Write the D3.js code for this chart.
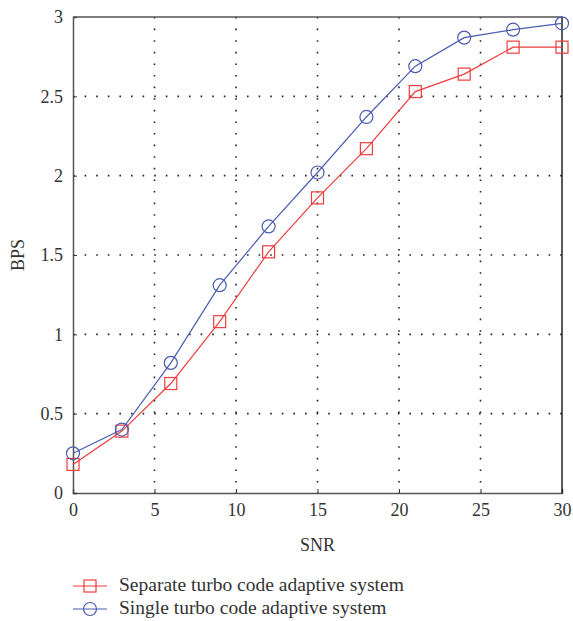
<!DOCTYPE html>
<html>
<head>
<meta charset="utf-8">
<script src="https://cdn.jsdelivr.net/npm/d3@7"></script>
<style>
  body { margin: 0; background: #fff; }
  text { font-family: 'Liberation Serif', 'DejaVu Serif', serif; fill: #333; }
</style>
</head>
<body>
<script>
const snr = [0, 3, 6, 9, 12, 15, 18, 21, 24, 27, 30];
const separateBps = [0.18, 0.39, 0.69, 1.08, 1.52, 1.86, 2.17, 2.53, 2.64, 2.81, 2.81];
const singleBps = [0.25, 0.40, 0.82, 1.31, 1.68, 2.02, 2.37, 2.69, 2.87, 2.92, 2.96];
const xTicks = [0, 5, 10, 15, 20, 25, 30];
const yTicks = [0, 0.5, 1, 1.5, 2, 2.5, 3];

const width = 573, height = 621;
const margin = { left: 73, top: 17, right: 11, bottom: 128 };

const svg = d3.select('body').append('svg')
  .attr('width', width)
  .attr('height', height);

const x = d3.scaleLinear().domain([0, 30]).range([margin.left, width - margin.right]);
const y = d3.scaleLinear().domain([0, 3]).range([height - margin.bottom, margin.top]);

// grid
const grid = svg.append('g').attr('stroke', '#222').attr('stroke-width', 1.6)
  .attr('stroke-dasharray', '1.6,10');
grid.selectAll('.vx').data(xTicks.slice(1, -1)).enter().append('line')
  .attr('x1', d => x(d)).attr('x2', d => x(d))
  .attr('y1', y(3)).attr('y2', y(0));
grid.selectAll('.hy').data(yTicks.slice(1, -1)).enter().append('line')
  .attr('x1', x(0)).attr('x2', x(30))
  .attr('y1', d => y(d)).attr('y2', d => y(d));

// axes
const xAxis = d3.axisBottom(x).tickValues(xTicks).tickSize(-4).tickPadding(10).tickFormat(d3.format('d'));
const yAxis = d3.axisLeft(y).tickValues(yTicks).tickSize(-4).tickPadding(10).tickFormat(d => d);

const gx = svg.append('g').attr('transform', `translate(0,${ y(0) })`).call(xAxis);
const gy = svg.append('g').attr('transform', `translate(${ x(0) },0)`).call(yAxis);
[gx, gy].forEach(g => {
  g.select('.domain').attr('stroke', '#555').attr('stroke-width', 1.5);
  g.selectAll('.tick line').attr('stroke', '#333');
  g.selectAll('.tick text').style('font-size', '18px').attr('fill', '#333');
});

// top / right border
svg.append('line').attr('x1', x(0)).attr('x2', x(30)).attr('y1', y(3)).attr('y2', y(3))
  .attr('stroke', '#555').attr('stroke-width', 1.5);
svg.append('line').attr('x1', x(30)).attr('x2', x(30)).attr('y1', y(3)).attr('y2', y(0))
  .attr('stroke', '#222').attr('stroke-width', 1.5);

// axis titles
svg.append('text').attr('x', x(15)).attr('y', 551)
  .attr('text-anchor', 'middle').style('font-size', '18px').text('SNR');
svg.append('text').attr('transform', `translate(24,${ y(1.5) }) rotate(-90)`)
  .attr('text-anchor', 'middle').style('font-size', '18px').text('BPS');

const series = [
  { name: 'Separate turbo code adaptive system', values: separateBps, color: '#f03c3c', marker: 'square' },
  { name: 'Single turbo code adaptive system', values: singleBps, color: '#4a5cb0', marker: 'circle' }
];

const line = d3.line().x((d, i) => x(snr[i])).y(d => y(d));

function drawMarker(g, type, cx, cy, color) {
  if (type === 'square') {
    g.append('rect').attr('x', cx - 6).attr('y', cy - 6).attr('width', 12).attr('height', 12)
      .attr('fill', 'none').attr('stroke', color).attr('stroke-width', 1.2);
  } else {
    g.append('circle').attr('cx', cx).attr('cy', cy).attr('r', 6.5)
      .attr('fill', 'none').attr('stroke', color).attr('stroke-width', 1.2);
  }
}

series.forEach(s => {
  const g = svg.append('g');
  g.append('path').datum(s.values).attr('d', line)
    .attr('fill', 'none').attr('stroke', s.color).attr('stroke-width', 1.2);
  s.values.forEach((v, i) => drawMarker(g, s.marker, x(snr[i]), y(v), s.color));
});

// legend
series.forEach((s, i) => {
  const ly = 586 + i * 23;
  const g = svg.append('g');
  g.append('line').attr('x1', 73).attr('x2', 107).attr('y1', ly).attr('y2', ly)
    .attr('stroke', s.color).attr('stroke-width', 1.2);
  drawMarker(g, s.marker, 90, ly, s.color);
  g.append('text').attr('x', 119).attr('y', ly + 5).style('font-size', '19.5px').text(s.name);
});
</script>
</body>
</html>
